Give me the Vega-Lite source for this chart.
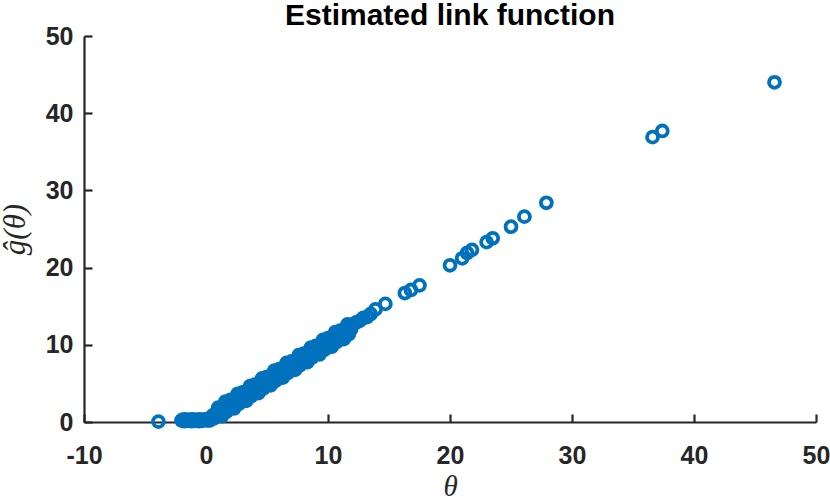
{
  "$schema": "https://vega.github.io/schema/vega-lite/v6.json",
  "width": 732,
  "height": 386,
  "autosize": {"type": "none"},
  "padding": {"left": 84, "top": 36, "right": 14, "bottom": 78},
  "background": "white",
  "title": {"text": "Estimated link function", "font": "Liberation Sans", "fontSize": 30, "fontWeight": "bold", "color": "#000000", "anchor": "middle", "offset": -7},
  "config": {"view": {"stroke": null}},
  "data": {"values": [
    {"t": -3.9, "g": 0.05},
    {"t": -2.0, "g": 0.2}, {"t": -1.9, "g": 0.3}, {"t": -1.8, "g": 0.1}, {"t": -1.7, "g": 0.35}, {"t": -1.6, "g": 0.15}, {"t": -1.5, "g": 0.25},
    {"t": -1.4, "g": 0.2}, {"t": -1.3, "g": 0.3}, {"t": -1.2, "g": 0.1}, {"t": -1.1, "g": 0.35}, {"t": -1.0, "g": 0.15}, {"t": -0.9, "g": 0.25},
    {"t": -0.8, "g": 0.2}, {"t": -0.7, "g": 0.3}, {"t": -0.6, "g": 0.1}, {"t": -0.5, "g": 0.35}, {"t": -0.4, "g": 0.15}, {"t": -0.3, "g": 0.25},
    {"t": -0.2, "g": 0.2}, {"t": -0.1, "g": 0.3},
    {"t": 0.0, "g": 0.35}, {"t": 0.1, "g": 0.2}, {"t": 0.2, "g": 0.4}, {"t": 0.3, "g": 0.2}, {"t": 0.4, "g": 0.6}, {"t": 0.5, "g": 0.45}, {"t": 0.6, "g": 0.9}, {"t": 0.7, "g": 0.5}, {"t": 0.8, "g": 1.1}, {"t": 0.9, "g": 0.9},
    {"t": 1.0, "g": 1.85}, {"t": 1.1, "g": 0.85}, {"t": 1.2, "g": 1.55}, {"t": 1.3, "g": 0.75}, {"t": 1.4, "g": 2.05}, {"t": 1.5, "g": 1.55}, {"t": 1.6, "g": 2.65}, {"t": 1.7, "g": 1.35}, {"t": 1.8, "g": 2.35}, {"t": 1.9, "g": 2.05},
    {"t": 2.0, "g": 2.85}, {"t": 2.1, "g": 1.85}, {"t": 2.2, "g": 2.55}, {"t": 2.3, "g": 1.75}, {"t": 2.4, "g": 3.05}, {"t": 2.5, "g": 2.55}, {"t": 2.6, "g": 3.65}, {"t": 2.7, "g": 2.35}, {"t": 2.8, "g": 3.35}, {"t": 2.9, "g": 3.05},
    {"t": 3.0, "g": 3.85}, {"t": 3.1, "g": 2.85}, {"t": 3.2, "g": 3.55}, {"t": 3.3, "g": 2.75}, {"t": 3.4, "g": 4.05}, {"t": 3.5, "g": 3.55}, {"t": 3.6, "g": 4.65}, {"t": 3.7, "g": 3.35}, {"t": 3.8, "g": 4.35}, {"t": 3.9, "g": 4.05},
    {"t": 4.0, "g": 4.85}, {"t": 4.1, "g": 3.85}, {"t": 4.2, "g": 4.55}, {"t": 4.3, "g": 3.75}, {"t": 4.4, "g": 5.05}, {"t": 4.5, "g": 4.55}, {"t": 4.6, "g": 5.65}, {"t": 4.7, "g": 4.35}, {"t": 4.8, "g": 5.35}, {"t": 4.9, "g": 5.05},
    {"t": 5.0, "g": 5.85}, {"t": 5.1, "g": 4.85}, {"t": 5.2, "g": 5.55}, {"t": 5.3, "g": 4.75}, {"t": 5.4, "g": 6.05}, {"t": 5.5, "g": 5.55}, {"t": 5.6, "g": 6.65}, {"t": 5.7, "g": 5.35}, {"t": 5.8, "g": 6.35}, {"t": 5.9, "g": 6.05},
    {"t": 6.0, "g": 6.85}, {"t": 6.1, "g": 5.85}, {"t": 6.2, "g": 6.55}, {"t": 6.3, "g": 5.75}, {"t": 6.4, "g": 7.05}, {"t": 6.5, "g": 6.55}, {"t": 6.6, "g": 7.65}, {"t": 6.7, "g": 6.35}, {"t": 6.8, "g": 7.35}, {"t": 6.9, "g": 7.05},
    {"t": 7.0, "g": 7.85}, {"t": 7.1, "g": 6.85}, {"t": 7.2, "g": 7.55}, {"t": 7.3, "g": 6.75}, {"t": 7.4, "g": 8.05}, {"t": 7.5, "g": 7.55}, {"t": 7.6, "g": 8.65}, {"t": 7.7, "g": 7.35}, {"t": 7.8, "g": 8.35}, {"t": 7.9, "g": 8.05},
    {"t": 8.0, "g": 8.85}, {"t": 8.1, "g": 7.85}, {"t": 8.2, "g": 8.55}, {"t": 8.3, "g": 7.75}, {"t": 8.4, "g": 9.05}, {"t": 8.5, "g": 8.55}, {"t": 8.6, "g": 9.65}, {"t": 8.7, "g": 8.35}, {"t": 8.8, "g": 9.35}, {"t": 8.9, "g": 9.05},
    {"t": 9.0, "g": 9.85}, {"t": 9.1, "g": 8.85}, {"t": 9.2, "g": 9.55}, {"t": 9.3, "g": 8.75}, {"t": 9.4, "g": 10.05}, {"t": 9.5, "g": 9.55}, {"t": 9.6, "g": 10.65}, {"t": 9.7, "g": 9.35}, {"t": 9.8, "g": 10.35}, {"t": 9.9, "g": 10.05},
    {"t": 10.0, "g": 10.85}, {"t": 10.1, "g": 9.85}, {"t": 10.2, "g": 10.55}, {"t": 10.3, "g": 9.75}, {"t": 10.4, "g": 11.05}, {"t": 10.5, "g": 10.55}, {"t": 10.6, "g": 11.65}, {"t": 10.7, "g": 10.35}, {"t": 10.8, "g": 11.35}, {"t": 10.9, "g": 11.05},
    {"t": 11.0, "g": 11.85}, {"t": 11.1, "g": 10.85}, {"t": 11.2, "g": 11.55}, {"t": 11.3, "g": 10.75}, {"t": 11.4, "g": 12.05}, {"t": 11.5, "g": 11.55}, {"t": 11.6, "g": 12.65}, {"t": 11.7, "g": 11.35}, {"t": 11.8, "g": 12.35}, {"t": 11.9, "g": 12.05},
    {"t": 12.0, "g": 12.6}, {"t": 12.3, "g": 12.9}, {"t": 12.6, "g": 13.1}, {"t": 12.9, "g": 13.5}, {"t": 13.2, "g": 13.6}, {"t": 13.5, "g": 14.0},
    {"t": 13.9, "g": 14.6}, {"t": 14.7, "g": 15.3},
    {"t": 16.3, "g": 16.7}, {"t": 16.8, "g": 17.1}, {"t": 17.5, "g": 17.7},
    {"t": 20.0, "g": 20.3}, {"t": 21.0, "g": 21.2}, {"t": 21.4, "g": 21.9}, {"t": 21.8, "g": 22.3},
    {"t": 23.0, "g": 23.3}, {"t": 23.5, "g": 23.8}, {"t": 25.0, "g": 25.3}, {"t": 26.1, "g": 26.6}, {"t": 27.9, "g": 28.4},
    {"t": 36.6, "g": 36.9}, {"t": 37.4, "g": 37.7}, {"t": 46.6, "g": 44.0}
  ]},
  "mark": {"type": "point", "shape": "circle", "filled": false, "color": "#0072BD", "size": 120, "strokeWidth": 3.8, "opacity": 1, "clip": false},
  "encoding": {
    "x": {"field": "t", "type": "quantitative",
      "scale": {"domain": [-10, 50], "nice": false, "zero": false},
      "axis": {"values": [-10, 0, 10, 20, 30, 40, 50], "grid": false, "title": "θ", "labelExpr": "'' + datum.value",
        "domainColor": "#262626", "domainWidth": 2.2, "tickColor": "#262626", "tickWidth": 2.2, "tickSize": -8,
        "labelFont": "Liberation Sans", "labelFontSize": 25, "labelFontWeight": "bold", "labelColor": "#262626", "labelPadding": 29, "labelFlush": false,
        "titleFont": "Liberation Serif", "titleFontStyle": "italic", "titleFontWeight": "normal", "titleFontSize": 29, "titleColor": "#262626", "titlePadding": 4}},
    "y": {"field": "g", "type": "quantitative",
      "scale": {"domain": [0, 50], "nice": false, "zero": false},
      "axis": {"values": [0, 10, 20, 30, 40, 50], "grid": false, "title": "ĝ(θ)",
        "domainColor": "#262626", "domainWidth": 2.2, "tickColor": "#262626", "tickWidth": 2.2, "tickSize": -8,
        "labelFont": "Liberation Sans", "labelFontSize": 25, "labelFontWeight": "bold", "labelColor": "#262626", "labelPadding": 19, "labelFlush": false,
        "titleFont": "Liberation Serif", "titleFontStyle": "italic", "titleFontWeight": "normal", "titleFontSize": 31, "titleColor": "#262626", "titlePadding": 14}}
  }
}
